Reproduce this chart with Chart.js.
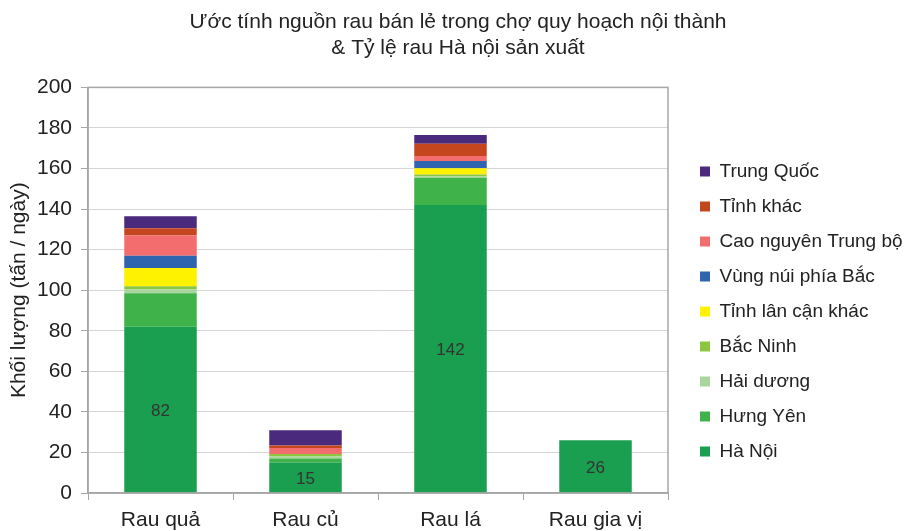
<!DOCTYPE html>
<html>
<head>
<meta charset="utf-8">
<script src="https://cdn.jsdelivr.net/npm/chart.js@4.4.1/dist/chart.umd.min.js"></script>
<style>
  html, body { margin: 0; padding: 0; background: #fff; }
  #wrap { width: 909px; height: 531px; position: relative; }
</style>
</head>
<body>
<div id="wrap"><canvas id="chart"></canvas></div>
<script>
// categories and series (tấn / ngày)
const categories = ['Rau quả', 'Rau củ', 'Rau lá', 'Rau gia vị'];

const haNoi      = [82, 15, 142, 26];
const hungYen    = [16.5, 2, 13.5, 0];
const haiDuong   = [2, 1, 0.6, 0];
const bacNinh    = [1.5, 1.2, 1, 0];
const lanCanKhac = [9, 0, 3, 0];
const vungNui    = [6, 0, 3.6, 0];
const caoNguyen  = [10, 3, 2.5, 0];
const tinhKhac   = [3.5, 1.2, 6, 0];
const trungQuoc  = [6, 7.5, 4.3, 0];

const yTicks = [0, 20, 40, 60, 80, 100, 120, 140, 160, 180, 200];

const series = [
    { label: 'Hà Nội', data: haNoi, color: '#1a9e4f' },
    { label: 'Hưng Yên', data: hungYen, color: '#3fb24a' },
    { label: 'Hải dương', data: haiDuong, color: '#a8d69c' },
    { label: 'Bắc Ninh', data: bacNinh, color: '#8cc63f' },
    { label: 'Tỉnh lân cận khác', data: lanCanKhac, color: '#fff200' },
    { label: 'Vùng núi phía Bắc', data: vungNui, color: '#2f65ae' },
    { label: 'Cao nguyên Trung bộ', data: caoNguyen, color: '#f36c6e' },
    { label: 'Tỉnh khác', data: tinhKhac, color: '#c4461f' },
    { label: 'Trung Quốc', data: trungQuoc, color: '#4a2a7c' }
];

const FONT = '"Liberation Sans", Arial, sans-serif';

// value labels on the Hà Nội segment only
const haNoiLabels = {
    id: 'haNoiLabels',
    afterDatasetsDraw(chart) {
        const ctx = chart.ctx;
        const meta = chart.getDatasetMeta(0);
        ctx.save();
        ctx.font = '17px ' + FONT;
        ctx.fillStyle = '#333';
        ctx.textAlign = 'center';
        ctx.textBaseline = 'middle';
        meta.data.forEach((bar, i) => {
            const p = bar.getProps(['x', 'y', 'base'], true);
            ctx.fillText(haNoi[i], p.x, (p.y + p.base) / 2 + 2);
        });
        ctx.restore();
    }
};

// grey frame round the plot area
const plotFrame = {
    id: 'plotFrame',
    afterDraw(chart) {
        const a = chart.chartArea;
        const ctx = chart.ctx;
        ctx.save();
        ctx.strokeStyle = '#a6a6a6';
        ctx.lineWidth = 1.5;
        ctx.strokeRect(a.left, a.top, a.right - a.left, a.bottom - a.top);
        ctx.restore();
    }
};

// legend: fixed width, a little away from the plot, starting lower down
const legendPlace = {
    id: 'legendPlace',
    afterInit(chart) {
        const legend = chart.legend;
        const fit = legend.fit.bind(legend);
        legend.fit = function () {
            fit();
            this.width = 241;
        };
    },
    afterLayout(chart) {
        const legend = chart.legend;
        legend.left = chart.chartArea.right + 16;
        legend.top = 146;
        legend.bottom = 531;
    }
};

const ctx = document.getElementById('chart').getContext('2d');
const chart = new Chart(ctx, {
    type: 'bar',
    data: {
        labels: categories,
        datasets: series.map(s => ({
            label: s.label,
            data: s.data,
            backgroundColor: s.color,
            borderWidth: 0,
            categoryPercentage: 0.5,
            barPercentage: 1
        }))
    },
    options: {
        responsive: true,
        maintainAspectRatio: false,
        animation: false,
        layout: { padding: { left: 7, right: 0, top: 0, bottom: 0 } },
        scales: {
            x: {
                stacked: true,
                afterFit: axis => { axis.height = 38; },
                grid: {
                    drawOnChartArea: false,
                    drawTicks: true,
                    tickLength: 7,
                    color: '#a6a6a6'
                },
                border: { color: '#a6a6a6', width: 1.5 },
                ticks: {
                    color: '#222',
                    font: { size: 21, family: FONT },
                    padding: 8
                }
            },
            y: {
                stacked: true,
                min: 0,
                max: 200,
                afterBuildTicks: axis => { axis.ticks = yTicks.map(v => ({ value: v })); },
                afterFit: axis => { axis.width = 81; },
                grid: {
                    color: '#d6d6d6',
                    tickLength: 7,
                    tickColor: '#a6a6a6'
                },
                border: { color: '#a6a6a6', width: 1.5 },
                ticks: {
                    color: '#222',
                    font: { size: 21, family: FONT },
                    padding: 9
                },
                title: {
                    display: true,
                    text: 'Khối lượng (tấn / ngày)',
                    color: '#222',
                    font: { size: 21, family: FONT },
                    padding: 0
                }
            }
        },
        plugins: {
            title: {
                display: true,
                text: ['Ước tính nguồn rau bán lẻ trong chợ quy hoạch nội thành', '& Tỷ lệ rau Hà nội sản xuất'],
                color: '#222',
                font: { size: 21, weight: 'normal', family: FONT, lineHeight: 1.2 },
                padding: { top: 10, bottom: 27 }
            },
            legend: {
                position: 'right',
                align: 'start',
                reverse: true,
                labels: {
                    boxWidth: 10,
                    boxHeight: 10,
                    padding: 16,
                    color: '#222',
                    font: { size: 19, family: FONT }
                }
            },
            tooltip: { enabled: false }
        }
    },
    plugins: [haNoiLabels, plotFrame, legendPlace]
});
chart.update();
</script>
</body>
</html>
